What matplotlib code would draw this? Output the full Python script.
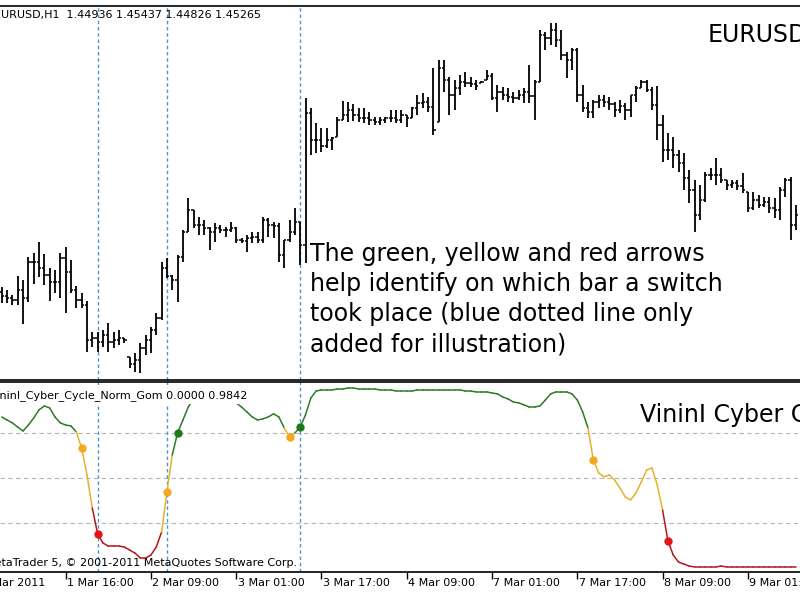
import matplotlib
matplotlib.use('Agg')
import matplotlib.pyplot as plt
import numpy as np

# EURUSD H1 bars, first bar = 1 Mar 2011 04:00
highs = [1.3813, 1.3810, 1.3805, 1.3824, 1.3820, 1.3843, 1.3847, 1.3858, 1.3846, 1.3832,
         1.3830, 1.3847, 1.3853, 1.3840, 1.3814, 1.3807, 1.3799, 1.3768, 1.3768, 1.3770,
         1.3777, 1.3768, 1.3770, 1.3762, 1.3743, 1.3747, 1.3757, 1.3765, 1.3773, 1.3787,
         1.3838, 1.3842, 1.3825, 1.3845, 1.3870, 1.3902, 1.3890, 1.3883, 1.3880, 1.3873,
         1.3877, 1.3875, 1.3873, 1.3878, 1.3873, 1.3862, 1.3865, 1.3868, 1.3868, 1.3883,
         1.3882, 1.3878, 1.3877, 1.3860, 1.3880, 1.3892, 1.3878, 1.4002, 1.3992, 1.3977,
         1.3972, 1.3972, 1.3963, 1.3983, 1.3999, 1.3998, 1.3996, 1.3992, 1.3992, 1.3988,
         1.3983, 1.3983, 1.3983, 1.3990, 1.3990, 1.3990, 1.3985, 1.3993, 1.4005, 1.4007,
         1.4003, 1.4032, 1.4040, 1.4040, 1.4023, 1.4020, 1.4025, 1.4028, 1.4023, 1.4020,
         1.4019, 1.4030, 1.4027, 1.4015, 1.4013, 1.4012, 1.4008, 1.4010, 1.4012, 1.4035,
         1.4020, 1.4070, 1.4068, 1.4077, 1.4077, 1.4070, 1.4048, 1.4052, 1.4052, 1.4015,
         1.3998, 1.4000, 1.4005, 1.4005, 1.4003, 1.3998, 1.4000, 1.3997, 1.4005, 1.4014,
         1.4020, 1.4020, 1.4013, 1.4014, 1.3985, 1.3967, 1.3963, 1.3950, 1.3947, 1.3930,
         1.3920, 1.3915, 1.3928, 1.3932, 1.3942, 1.3932, 1.3920, 1.3920, 1.3920, 1.3927,
         1.3908, 1.3908, 1.3905, 1.3903, 1.3903, 1.3902, 1.3913, 1.3922, 1.3923, 1.3895]
lows = [1.3797, 1.3797, 1.3795, 1.3795, 1.3776, 1.3798, 1.3816, 1.3823, 1.3815, 1.3799,
        1.3807, 1.3802, 1.3787, 1.3807, 1.3792, 1.3792, 1.3748, 1.3753, 1.3748, 1.3753,
        1.3748, 1.3752, 1.3755, 1.3757, 1.3732, 1.3728, 1.3727, 1.3745, 1.3747, 1.3765,
        1.3780, 1.3822, 1.3810, 1.3798, 1.3838, 1.3868, 1.3872, 1.3865, 1.3865, 1.3850,
        1.3858, 1.3867, 1.3863, 1.3868, 1.3857, 1.3857, 1.3848, 1.3857, 1.3857, 1.3857,
        1.3863, 1.3862, 1.3838, 1.3832, 1.3858, 1.3865, 1.3835, 1.3837, 1.3945, 1.3947,
        1.3948, 1.3952, 1.3950, 1.3963, 1.3980, 1.3978, 1.3979, 1.3978, 1.3977, 1.3975,
        1.3975, 1.3975, 1.3977, 1.3978, 1.3977, 1.3977, 1.3973, 1.3982, 1.3985, 1.3992,
        1.3988, 1.3965, 1.3978, 1.4008, 1.3985, 1.3990, 1.4005, 1.4013, 1.4013, 1.4010,
        1.4017, 1.4020, 1.4000, 1.3988, 1.4000, 1.3998, 1.3997, 1.4000, 1.3997, 1.3997,
        1.3980, 1.4018, 1.4050, 1.4055, 1.4053, 1.4040, 1.4022, 1.4030, 1.3998, 1.3988,
        1.3982, 1.3982, 1.3992, 1.3993, 1.3990, 1.3983, 1.3987, 1.3980, 1.3983, 1.3998,
        1.4012, 1.4008, 1.3990, 1.3960, 1.3938, 1.3940, 1.3932, 1.3928, 1.3910, 1.3897,
        1.3868, 1.3880, 1.3898, 1.3920, 1.3915, 1.3917, 1.3910, 1.3912, 1.3910, 1.3907,
        1.3888, 1.3890, 1.3892, 1.3893, 1.3887, 1.3882, 1.3880, 1.3903, 1.3860, 1.3870]
opens = [1.3808, 1.3804, 1.3802, 1.3800, 1.3810, 1.3802, 1.3838, 1.3838, 1.3832, 1.3825,
         1.3818, 1.3818, 1.3842, 1.3828, 1.3810, 1.3800, 1.3795, 1.3760, 1.3762, 1.3758,
         1.3765, 1.3758, 1.3760, 1.3762, 1.3743, 1.3736, 1.3740, 1.3752, 1.3760, 1.3770,
         1.3782, 1.3832, 1.3824, 1.3820, 1.3843, 1.3868, 1.3890, 1.3875, 1.3875, 1.3872,
         1.3868, 1.3872, 1.3870, 1.3870, 1.3872, 1.3860, 1.3859, 1.3862, 1.3863, 1.3860,
         1.3880, 1.3875, 1.3874, 1.3845, 1.3860, 1.3868, 1.3878, 1.3855, 1.3987, 1.3960,
         1.3960, 1.3954, 1.3960, 1.3963, 1.3980, 1.3985, 1.3990, 1.3985, 1.3982, 1.3982,
         1.3980, 1.3978, 1.3980, 1.3982, 1.3982, 1.3980, 1.3985, 1.3982, 1.3992, 1.3997,
         1.3998, 1.3993, 1.3978, 1.4032, 1.4020, 1.4005, 1.4012, 1.4018, 1.4017, 1.4016,
         1.4017, 1.4020, 1.4024, 1.4002, 1.4008, 1.4005, 1.4003, 1.4002, 1.4005, 1.4008,
         1.4004, 1.4018, 1.4065, 1.4062, 1.4070, 1.4060, 1.4045, 1.4040, 1.4050, 1.4005,
         1.3992, 1.3988, 1.3998, 1.4000, 1.3998, 1.3996, 1.3990, 1.3994, 1.3990, 1.4005,
         1.4012, 1.4018, 1.4010, 1.3995, 1.3975, 1.3950, 1.3950, 1.3945, 1.3937, 1.3922,
         1.3910, 1.3885, 1.3900, 1.3925, 1.3925, 1.3925, 1.3920, 1.3915, 1.3917, 1.3914,
         1.3908, 1.3892, 1.3900, 1.3895, 1.3898, 1.3892, 1.3890, 1.3910, 1.3920, 1.3875]
closes = [1.3804, 1.3802, 1.3800, 1.3810, 1.3802, 1.3838, 1.3838, 1.3832, 1.3825, 1.3818,
          1.3818, 1.3842, 1.3828, 1.3810, 1.3800, 1.3795, 1.3760, 1.3762, 1.3758, 1.3765,
          1.3758, 1.3760, 1.3762, 1.3760, 1.3736, 1.3740, 1.3752, 1.3760, 1.3770, 1.3782,
          1.3832, 1.3824, 1.3820, 1.3843, 1.3868, 1.3890, 1.3875, 1.3875, 1.3872, 1.3868,
          1.3872, 1.3870, 1.3870, 1.3872, 1.3860, 1.3859, 1.3862, 1.3863, 1.3860, 1.3880,
          1.3875, 1.3874, 1.3845, 1.3860, 1.3868, 1.3878, 1.3855, 1.3987, 1.3960, 1.3960,
          1.3954, 1.3960, 1.3962, 1.3980, 1.3985, 1.3990, 1.3985, 1.3982, 1.3982, 1.3980,
          1.3978, 1.3980, 1.3982, 1.3982, 1.3980, 1.3985, 1.3982, 1.3992, 1.3997, 1.3998,
          1.3993, 1.3970, 1.4032, 1.4020, 1.4005, 1.4012, 1.4018, 1.4017, 1.4016, 1.4014,
          1.4018, 1.4024, 1.4002, 1.4008, 1.4005, 1.4003, 1.4002, 1.4005, 1.4008, 1.4004,
          1.4018, 1.4065, 1.4062, 1.4070, 1.4060, 1.4045, 1.4040, 1.4050, 1.4005, 1.3992,
          1.3988, 1.3998, 1.4000, 1.3998, 1.3996, 1.3990, 1.3994, 1.3990, 1.4005, 1.4012,
          1.4018, 1.4010, 1.3995, 1.3975, 1.3950, 1.3950, 1.3945, 1.3937, 1.3922, 1.3910,
          1.3885, 1.3900, 1.3925, 1.3925, 1.3925, 1.3920, 1.3915, 1.3917, 1.3914, 1.3910,
          1.3892, 1.3900, 1.3895, 1.3898, 1.3892, 1.3890, 1.3910, 1.3920, 1.3875, 1.3885]

# VininI_Cyber_Cycle_Norm_Gom
cyber = [0.839, 0.822, 0.806, 0.783, 0.761, 0.794, 0.833, 0.878, 0.900, 0.889,
         0.839, 0.806, 0.794, 0.789, 0.756, 0.667, 0.517, 0.333, 0.189, 0.139,
         0.122, 0.122, 0.122, 0.117, 0.100, 0.083, 0.056, 0.056, 0.072, 0.117,
         0.200, 0.422, 0.628, 0.750, 0.822, 0.894, 0.939, 0.961, 0.972, 0.972,
         0.967, 0.956, 0.944, 0.928, 0.917, 0.894, 0.867, 0.839, 0.822, 0.828,
         0.839, 0.856, 0.839, 0.778, 0.728, 0.750, 0.783, 0.850, 0.944, 0.983,
         0.989, 0.989, 0.989, 0.994, 0.994, 1.000, 1.000, 0.994, 0.994, 0.994,
         0.994, 0.989, 0.989, 0.989, 0.983, 0.983, 0.983, 0.983, 0.989, 0.989,
         0.989, 0.989, 0.989, 0.989, 0.989, 0.989, 0.989, 0.983, 0.983, 0.978,
         0.978, 0.978, 0.972, 0.967, 0.950, 0.939, 0.922, 0.917, 0.906, 0.894,
         0.894, 0.900, 0.933, 0.967, 0.978, 0.978, 0.978, 0.967, 0.933, 0.867,
         0.778, 0.600, 0.528, 0.506, 0.517, 0.489, 0.444, 0.394, 0.378, 0.417,
         0.478, 0.544, 0.556, 0.461, 0.322, 0.150, 0.072, 0.033, 0.022, 0.011,
         0.006, 0.006, 0.006, 0.006, 0.006, 0.011, 0.006, 0.006, 0.006, 0.006,
         0.006, 0.006, 0.006, 0.006, 0.006, 0.006, 0.006, 0.006, 0.006, 0.006]

# bars where the indicator colour switches
switch_bars = [15, 18, 31, 33, 54, 56, 111, 125]
switch_states = ['y', 'r', 'y', 'g', 'y', 'g', 'y', 'r']
marked_bars = [18, 31, 56]

tick_pos = [-4, 12, 28, 44, 60, 76, 92, 108, 124, 140]
tick_labels = ['1 Mar 2011', '1 Mar 16:00', '2 Mar 09:00', '3 Mar 01:00', '3 Mar 17:00',
               '4 Mar 09:00', '7 Mar 01:00', '7 Mar 17:00', '8 Mar 09:00', '9 Mar 01:00']
levels = [0.25, 0.5, 0.75]

line_col = {'g': '#2f7a2a', 'y': '#e6b12e', 'r': '#b8161c'}
dot_col = {'g': '#1c7a1c', 'y': '#f2a921', 'r': '#e2141a'}

n = len(highs)
x = np.arange(n)
xlim = (-0.32, 149.78)

fig = plt.figure(figsize=(8, 6), dpi=100)
ax = fig.add_axes([0, 1 - 380 / 600, 1, 374 / 600])
ax2 = fig.add_axes([0, 1 - 572 / 600, 1, 190 / 600])

# price bars
ax.vlines(x, lows, highs, color='black', lw=1.3, zorder=3)
ax.hlines(opens, x - 0.42, x, color='black', lw=1.1, zorder=3)
ax.hlines(closes, x, x + 0.42, color='black', lw=1.1, zorder=3)
ax.set_ylim(1.3720, 1.4094)
ax.set_xticks([])

# indicator
for lv in levels:
    ax2.axhline(lv, color='#b5b5b5', lw=0.8, ls=(0, (4, 3)), zorder=1)

state = ['g'] * n
for b, s in zip(switch_bars, switch_states):
    for k in range(b, n):
        state[k] = s
for i in range(1, n):
    ax2.plot([i - 1, i], [cyber[i - 1], cyber[i]], color=line_col[state[i]],
             lw=1.1, solid_capstyle='round', zorder=3)
for b, s in zip(switch_bars, switch_states):
    ax2.plot(b, cyber[b], 'o', color=dot_col[s], ms=5, zorder=4)
ax2.set_ylim(-0.022, 1.033)

ax2.set_xticks(tick_pos)
ax2.set_xticklabels([])
ax2.tick_params(axis='x', direction='out', length=5, width=1)
for p, lab in zip(tick_pos, tick_labels):
    ax2.text(p + 0.25, -0.058, lab, transform=ax2.get_xaxis_transform(),
             fontsize=8, ha='left', va='center', clip_on=False)

for a in (ax, ax2):
    a.set_xlim(*xlim)
    a.spines['left'].set_visible(False)
    a.spines['right'].set_visible(False)
    a.spines['top'].set_linewidth(1.2)
    a.spines['bottom'].set_linewidth(1.2)
    a.set_yticks([])
    for b in marked_bars:
        a.axvline(b, color='#4f95cf', lw=1, ls=(0, (2.5, 2)), zorder=1)

# texts
fig.text(-6 / 800, 1 - 15 / 600, 'EURUSD,H1  1.44936 1.45437 1.44826 1.45265',
         fontsize=8, va='center', ha='left')
fig.text(708 / 800, 1 - 35 / 600, 'EURUSD', fontsize=17, va='center', ha='left')
fig.text(310 / 800, 1 - 299 / 600,
         'The green, yellow and red arrows\nhelp identify on which bar a switch\n'
         'took place (blue dotted line only\nadded for illustration)',
         fontsize=17, va='center', ha='left', linespacing=1.32)
fig.text(-11 / 800, 1 - 396 / 600, 'VininI_Cyber_Cycle_Norm_Gom 0.0000 0.9842',
         fontsize=8, va='center', ha='left',
         bbox=dict(facecolor='white', edgecolor='none', pad=1.5))
fig.text(640 / 800, 1 - 415 / 600, 'VininI Cyber Cycle', fontsize=17, va='center', ha='left')
fig.text(-15 / 800, 1 - 563 / 600, 'MetaTrader 5, \u00a9 2001-2011 MetaQuotes Software Corp.',
         fontsize=8, va='center', ha='left')

fig.savefig('out.png', dpi=100)
